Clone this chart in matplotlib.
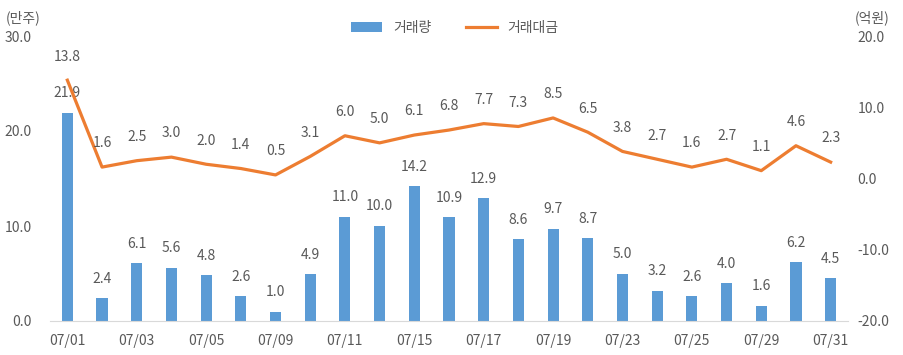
import matplotlib.pyplot as plt
import numpy as np

plt.rcParams['font.family'] = ['Noto Sans CJK KR', 'DejaVu Sans']

dates = ['07/01', '07/02', '07/03', '07/04', '07/05', '07/08', '07/09', '07/10',
         '07/11', '07/12', '07/15', '07/16', '07/17', '07/18', '07/19', '07/22',
         '07/23', '07/24', '07/25', '07/26', '07/29', '07/30', '07/31']
volume = [21.9, 2.4, 6.1, 5.6, 4.8, 2.6, 1.0, 4.9, 11.0, 10.0, 14.2, 10.9,
          12.9, 8.6, 9.7, 8.7, 5.0, 3.2, 2.6, 4.0, 1.6, 6.2, 4.5]
amount = [13.8, 1.6, 2.5, 3.0, 2.0, 1.4, 0.5, 3.1, 6.0, 5.0, 6.1, 6.8,
          7.7, 7.3, 8.5, 6.5, 3.8, 2.7, 1.6, 2.7, 1.1, 4.6, 2.3]

grey = '#595959'
blue = '#5B9BD5'
orange = '#ED7D31'

fig = plt.figure(figsize=(9.04, 3.55), dpi=100)
ax = fig.add_axes([50 / 904, 34 / 355, 798 / 904, 285 / 355])
ax2 = ax.twinx()

x = np.arange(len(dates))
bars = ax.bar(x, volume, width=0.32, color=blue, label='거래량', zorder=2)
line, = ax2.plot(x, amount, color=orange, lw=2.3, label='거래대금', zorder=3)

ax.set_xlim(-0.5, len(dates) - 0.5)
ax.set_ylim(0, 30)
ax2.set_ylim(-20, 20)
ax.set_yticks([0, 10, 20, 30])
ax.set_yticklabels(['0.0', '10.0', '20.0', '30.0'])
ax2.set_yticks([-20, -10, 0, 10, 20])
ax2.set_yticklabels(['-20.0', '-10.0', '0.0', '10.0', '20.0'])
ax.set_xticks(x[::2])
ax.set_xticklabels(dates[::2])

for a in (ax, ax2):
    for s in a.spines.values():
        s.set_visible(False)
ax.spines['bottom'].set_visible(True)
ax.spines['bottom'].set_color('#D9D9D9')
ax.tick_params(axis='y', length=0, pad=13, labelsize=10, labelcolor=grey)
ax.tick_params(axis='x', length=0, pad=9.5, labelsize=10, labelcolor=grey)
ax2.tick_params(axis='y', length=0, pad=7, labelsize=10, labelcolor=grey)

for xi, v in zip(x, volume):
    ax.annotate(f'{v:.1f}', (xi, v), xytext=(0, 9), textcoords='offset points',
                ha='center', va='bottom', fontsize=10, color=grey)
for xi, v in zip(x, amount):
    ax2.annotate(f'{v:.1f}', (xi, v), xytext=(0, 12), textcoords='offset points',
                 ha='center', va='bottom', fontsize=10, color=grey)

fig.text(6 / 904, 1 - 18 / 355, '(만주)', fontsize=10, color=grey, va='center')
fig.text(855 / 904, 1 - 18 / 355, '(억원)', fontsize=10, color=grey, va='center')

fig.legend(handles=[bars, line], loc='center', bbox_to_anchor=(455 / 904, 1 - 28 / 355),
           ncol=2, frameon=False, fontsize=10, labelcolor=grey,
           handlelength=2.2, columnspacing=2.5)

fig.savefig('out.png', dpi=100)
